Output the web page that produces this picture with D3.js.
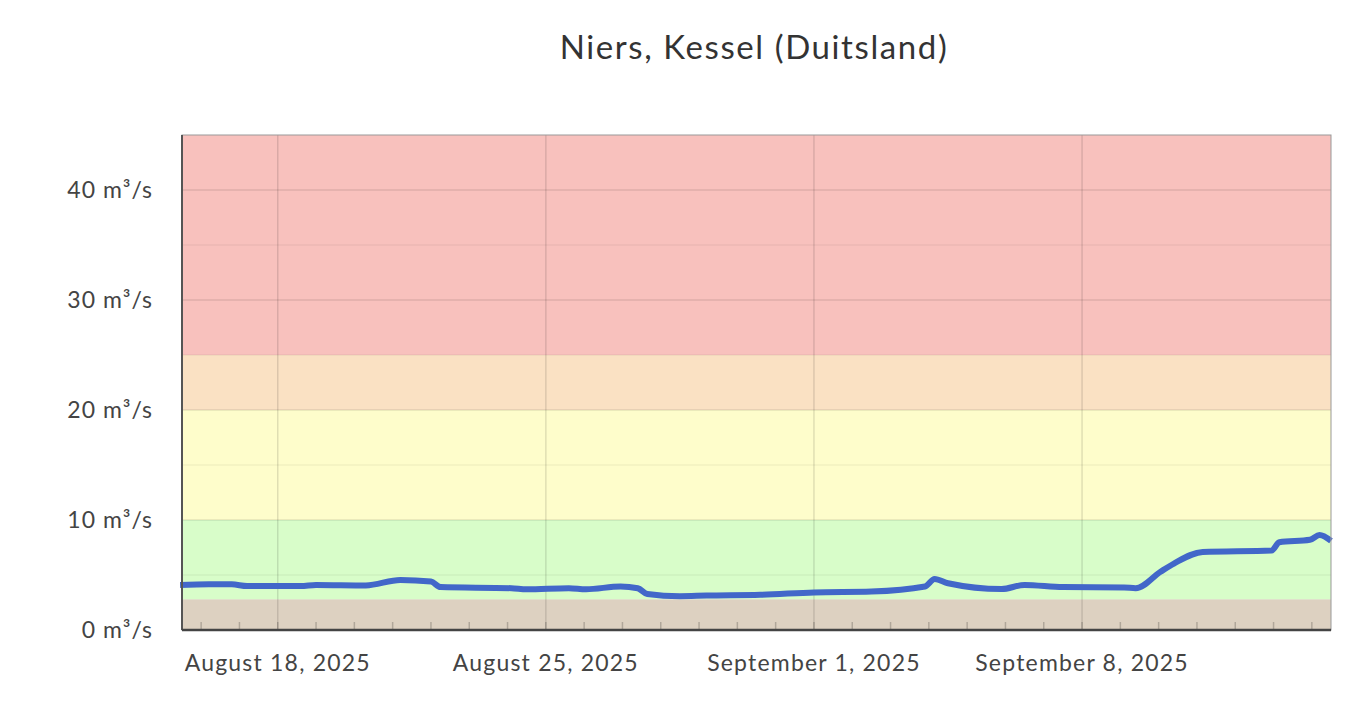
<!DOCTYPE html>
<html><head><meta charset="utf-8">
<script src="https://cdn.jsdelivr.net/npm/d3@7"></script>
<style>body{margin:0;background:#fff;font-family:Lato,"Open Sans",sans-serif}</style>
</head><body><svg id="c" width="1366" height="710"></svg>
<script>
const title = "Niers, Kessel (Duitsland)";
// day of August 2025 (Sep 1 = 32), discharge m³/s
const dayOfAugust = [15.45,16.2,16.8,17.2,18.6,19.0,20.3,21.2,22.0,22.25,24.1,24.5,25.6,26.05,26.95,27.4,27.65,28.5,29.2,30.6,32.0,33.5,34.9,35.15,35.5,36.9,37.5,38.5,40.1,40.4,41.05,41.4,42.15,43.95,44.15,44.95,45.2,45.5];
const discharge  = [4.1,4.15,4.15,4.0,4.0,4.1,4.05,4.55,4.4,3.9,3.8,3.7,3.8,3.7,3.96,3.8,3.27,3.07,3.13,3.2,3.42,3.5,3.96,4.64,4.25,3.72,4.1,3.9,3.87,3.8,5.3,6.04,7.1,7.23,7.98,8.2,8.63,8.1];
const bandLimits = [0,2.8,10,20,25,45];
const bandColors = ["#ddd1c1","#d8fdc9","#fefdcb","#fae1c3","#f8c1bd"];
const yTicks = [0,10,20,30,40];
const yMinor = [5,15,25,35];
const xTickDays = [18,25,32,39];
const xTickLabels = ["August 18, 2025","August 25, 2025","September 1, 2025","September 8, 2025"];

const L=182,R=1331,T=135,B=630;
const svg=d3.select("#c");
const base=new Date(2025,7,1);
const toDate=d=>new Date(base.getTime()+(d-1)*864e5);
const x=d3.scaleTime().domain([toDate(15.5),toDate(45.5)]).range([L,R]);
const y=d3.scaleLinear().domain([0,45]).range([B,T]);

svg.append("text").attr("x",754).attr("y",59).attr("text-anchor","middle").attr("font-size",33).attr("letter-spacing",1.6).attr("fill","#333").text(title);

for(let i=0;i<bandColors.length;i++){
  svg.append("rect").attr("x",L).attr("width",R-L).attr("y",y(bandLimits[i+1])).attr("height",y(bandLimits[i])-y(bandLimits[i+1])).attr("fill",bandColors[i]);
}
svg.selectAll(".hm").data(yMinor).join("line").attr("x1",L).attr("x2",R).attr("y1",d=>y(d)).attr("y2",d=>y(d)).attr("stroke","rgba(0,0,0,0.05)").attr("stroke-width",1.5);
svg.selectAll(".hj").data(yTicks.slice(1)).join("line").attr("x1",L).attr("x2",R).attr("y1",d=>y(d)).attr("y2",d=>y(d)).attr("stroke","rgba(0,0,0,0.1)").attr("stroke-width",1.5);
svg.selectAll(".vj").data(xTickDays).join("line").attr("x1",d=>x(toDate(d))).attr("x2",d=>x(toDate(d))).attr("y1",T).attr("y2",B).attr("stroke","rgba(0,0,0,0.12)").attr("stroke-width",1.5);
const days=d3.timeDay.range(toDate(16),toDate(45.5));
svg.selectAll(".mt").data(days).join("line").attr("x1",d=>x(d)).attr("x2",d=>x(d)).attr("y1",B-8).attr("y2",B).attr("stroke","rgba(0,0,0,0.2)").attr("stroke-width",1.5);

svg.append("path").datum(dayOfAugust.map((d,i)=>[toDate(d),discharge[i]]))
  .attr("d",d3.line().x(d=>x(d[0])).y(d=>y(d[1])).curve(d3.curveMonotoneX))
  .attr("fill","none").attr("stroke","#4267c9").attr("stroke-width",6).attr("stroke-linejoin","round");

svg.append("rect").attr("x",L).attr("y",T).attr("width",R-L).attr("height",B-T).attr("fill","none").attr("stroke","#999").attr("stroke-width",1);
svg.append("line").attr("x1",L).attr("x2",L).attr("y1",T).attr("y2",B).attr("stroke","#555").attr("stroke-width",2);
svg.append("line").attr("x1",L).attr("x2",R).attr("y1",B).attr("y2",B).attr("stroke","#444").attr("stroke-width",2.5);

svg.selectAll(".yl").data(yTicks).join("text").attr("x",153).attr("y",d=>y(d)+8).attr("text-anchor","end").attr("font-size",23).attr("letter-spacing",1).attr("fill","#444").text(d=>d+" m³/s");
svg.selectAll(".xl").data(xTickDays).join("text").attr("x",d=>x(toDate(d))).attr("y",671).attr("text-anchor","middle").attr("font-size",23).attr("letter-spacing",1.2).attr("fill","#444").text((d,i)=>xTickLabels[i]);
</script></body></html>
